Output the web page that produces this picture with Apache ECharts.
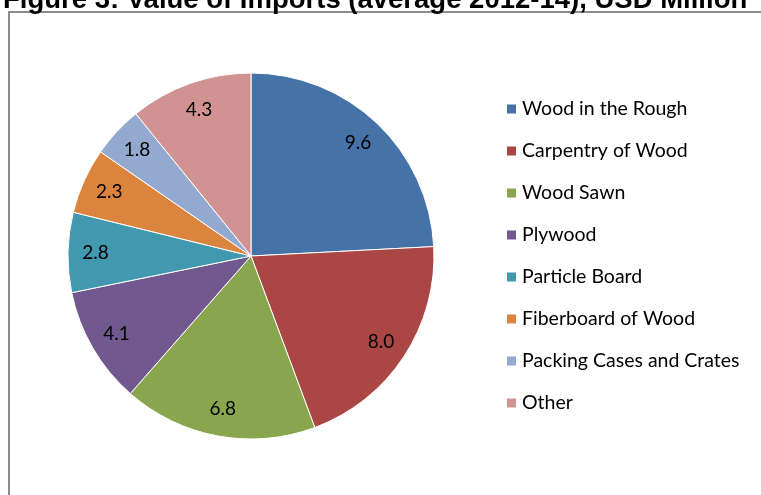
<!DOCTYPE html>
<html><head><meta charset="utf-8">
<script src="https://cdn.jsdelivr.net/npm/echarts@6/dist/echarts.min.js"></script>
<style>html,body{margin:0;padding:0;background:#fff;}#c{width:761px;height:495px;}</style>
</head><body><div id="c"></div>
<script>
var categories = ['Wood in the Rough','Carpentry of Wood','Wood Sawn','Plywood','Particle Board','Fiberboard of Wood','Packing Cases and Crates','Other'];
var values = [9.6, 8.0, 6.8, 4.1, 2.8, 2.3, 1.8, 4.3];
var colors = ['#4572A7','#AA4643','#89A54E','#71588F','#4198AF','#DB843D','#93A9CF','#D19392'];
var titleText = 'Figure 3: Value of Imports (average 2012-14), USD Million';

var data = categories.map(function(n,i){return {name:n,value:values[i],itemStyle:{color:colors[i]}};});
var chart = echarts.init(document.getElementById('c'));
chart.setOption({
  animation:false,
  graphic:[
    {type:'rect',shape:{x:9,y:12,width:800,height:600},style:{fill:'none',stroke:'#8c8c8c',lineWidth:2},z:-1},
    {type:'text',x:3,y:-14,style:{text:titleText,font:'bold 27.5px "Liberation Sans", Arial, sans-serif',fill:'#000'}}
  ],
  legend:{orient:'vertical',left:500,top:94,padding:5,itemWidth:11,itemHeight:11,itemGap:22,icon:'rect',
    data:categories,
    textStyle:{fontFamily:'Lato, "Open Sans", sans-serif',fontSize:19.5,color:'#000'}},
  series:[
    {type:'pie',center:[251,256],radius:[0,183],startAngle:90,clockwise:true,data:data,
     label:{show:false},labelLine:{show:false},itemStyle:{borderColor:'#fff',borderWidth:1},emphasis:{disabled:true}},
    {type:'pie',center:[251,256],radius:[122,183],startAngle:90,clockwise:true,silent:true,
     data:categories.map(function(n,i){return {name:n,value:values[i],itemStyle:{color:'rgba(0,0,0,0)'}};}),
     label:{show:true,position:'inside',formatter:function(p){return p.value.toFixed(1);},
       fontFamily:'Lato, "Open Sans", sans-serif',fontSize:19,color:'#000'},
     labelLine:{show:false},itemStyle:{borderWidth:0},emphasis:{disabled:true}}
  ]
});
</script></body></html>
